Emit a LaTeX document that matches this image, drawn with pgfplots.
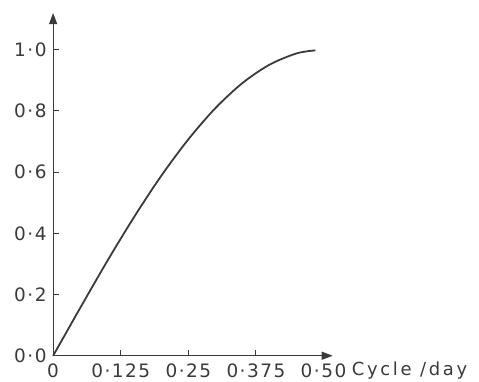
\documentclass[border=0pt]{standalone}
\usepackage{pgfplots}
\pgfplotsset{compat=1.18}
\usepackage{fontspec}
\setmainfont{DejaVu Sans}[LetterSpace=8]
\newfontfamily\labfont{DejaVu Sans}[LetterSpace=15]
\usetikzlibrary{arrows.meta}
\definecolor{ink}{HTML}{3A3A3A}
\begin{document}
\begin{tikzpicture}
\begin{axis}[name=ax, scale only axis, width=279bp, height=342bp,
  xmin=0, xmax=0.517, ymin=0, ymax=1.12,
  axis lines=left,
  axis line style={line width=1.1pt, ink, -{Triangle[length=11bp,width=8bp]}},
  xtick={0,0.125,0.25,0.375,0.5},
  xticklabels={0,0·125,0·25,0·375,0·50},
  ytick={0,0.2,0.4,0.6,0.8,1.0},
  yticklabels={0·0,0·2,0·4,0·6,0·8,1·0},
  major tick length=0pt, tick align=inside,
  ticklabel style={font=\fontsize{18.5}{20}\selectfont, text=ink},
  x tick label style={yshift=-5bp},
  y tick label style={xshift=-3bp},
  clip=false]
\addplot[line width=1.8pt, ink, smooth] coordinates {
(0,0) (0.025,0.078) (0.05,0.156) (0.1,0.309) (0.15,0.454) (0.2,0.588)
(0.25,0.707) (0.3,0.809) (0.35,0.891) (0.4,0.951) (0.45,0.988) (0.485,0.998)};
\draw[ink, line width=1pt] (axis cs:0.125,0) -- ++(0,6bp);
\draw[ink, line width=1pt] (axis cs:0.25,0) -- ++(0,6bp);
\draw[ink, line width=1pt] (axis cs:0.375,0) -- ++(0,6bp);
\draw[ink, line width=1pt] (axis cs:0,0.2) -- ++(6bp,0);
\draw[ink, line width=1pt] (axis cs:0,0.4) -- ++(6bp,0);
\draw[ink, line width=1pt] (axis cs:0,0.6) -- ++(6bp,0);
\draw[ink, line width=1pt] (axis cs:0,0.8) -- ++(6bp,0);
\draw[ink, line width=1pt] (axis cs:0,1.0) -- ++(6bp,0);
\node[anchor=base west, font=\labfont\fontsize{18}{20}\selectfont, text=ink, inner sep=0pt] at (axis cs:0.552,0) [yshift=-20bp] {Cycle /day};
\end{axis}
\path[use as bounding box] ([xshift=-53bp,yshift=-24bp]ax.south west) rectangle ([xshift=146bp,yshift=13bp]ax.north east);
\end{tikzpicture}
\end{document}
